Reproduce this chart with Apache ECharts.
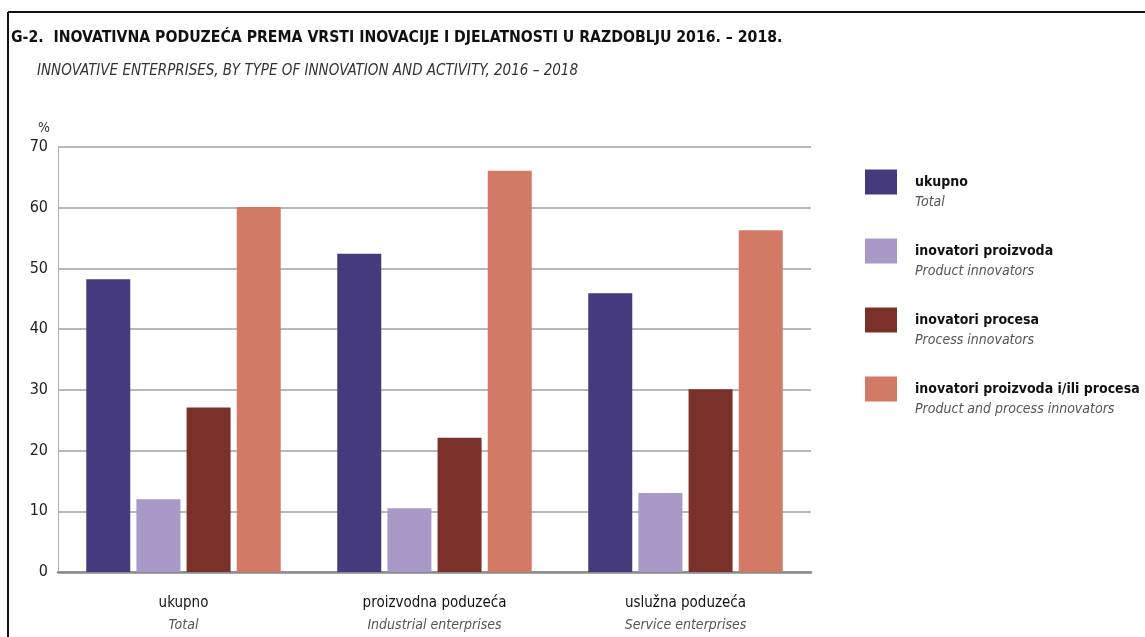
<!DOCTYPE html>
<html>
<head>
<meta charset="utf-8">
<script src="https://cdn.jsdelivr.net/npm/echarts@6/dist/echarts.min.js"></script>
<style>
html,body{margin:0;padding:0;background:#fff;}
#c{width:1145px;height:637px;}
</style>
</head>
<body>
<div id="c"></div>
<script>
const FONT = "'Liberation Sans Narrow','DejaVu Sans Condensed','Roboto Condensed',sans-serif";

const categoriesHr = ['ukupno', 'proizvodna poduzeća', 'uslužna poduzeća'];
const categoriesEn = ['Total', 'Industrial enterprises', 'Service enterprises'];

const seriesNamesHr = ['ukupno', 'inovatori proizvoda', 'inovatori procesa', 'inovatori proizvoda i/ili procesa'];
const seriesNamesEn = ['Total', 'Product innovators', 'Process innovators', 'Product and process innovators'];
const seriesColors = ['#463a7f', '#a899c6', '#7a3129', '#d27a66'];

const totalValues = [48.2, 52.4, 45.9];
const productValues = [12.0, 10.5, 13.0];
const processValues = [27.1, 22.1, 30.1];
const productOrProcessValues = [60.1, 66.1, 56.3];

const yTicks = [0, 10, 20, 30, 40, 50, 60, 70];

const titleHr = 'G-2.  INOVATIVNA PODUZEĆA PREMA VRSTI INOVACIJE I DJELATNOSTI U RAZDOBLJU 2016. – 2018.';
const titleEn = 'INNOVATIVE ENTERPRISES, BY TYPE OF INNOVATION AND ACTIVITY, 2016 – 2018';

const allValues = [totalValues, productValues, processValues, productOrProcessValues];

const chart = echarts.init(document.getElementById('c'), null, {renderer: 'canvas'});

const series = allValues.map((vals, i) => ({
  name: seriesNamesHr[i],
  type: 'bar',
  data: vals,
  barWidth: 44,
  barGap: '14%',
  itemStyle: {color: seriesColors[i]},
  emphasis: {disabled: true}
}));

const option = {
  animation: false,
  backgroundColor: '#fff',
  textStyle: {fontFamily: FONT},
  title: [
    {text: titleHr, left: 6, top: 25,
     textStyle: {fontFamily: FONT, fontWeight: 'bold', fontSize: 15.7, color: '#111'}},
    {text: titleEn, left: 32, top: 59,
     textStyle: {fontFamily: FONT, fontStyle: 'italic', fontWeight: 'normal', fontSize: 15, color: '#333'}}
  ],
  graphic: [
    {type: 'line', shape: {x1: 8, y1: 12, x2: 1145, y2: 12}, style: {stroke: '#111', lineWidth: 2}},
    {type: 'line', shape: {x1: 8, y1: 12, x2: 8, y2: 637}, style: {stroke: '#111', lineWidth: 2}}
  ],
  legend: {
    orient: 'vertical',
    left: 860,
    top: 150,
    itemWidth: 32,
    itemHeight: 25,
    itemGap: 15,
    icon: 'rect',
    data: seriesNamesHr,
    selectedMode: false,
    formatter: function (name) {
      const i = seriesNamesHr.indexOf(name);
      return '{e| }\n{a|' + name + '}\n{b|' + seriesNamesEn[i] + '}';
    },
    textStyle: {
      padding: [0, 0, 0, 13],
      rich: {
        e: {fontSize: 14, lineHeight: 20},
        a: {fontFamily: FONT, fontWeight: 'bold', fontSize: 14, lineHeight: 20, color: '#111'},
        b: {fontFamily: FONT, fontStyle: 'italic', fontSize: 14, lineHeight: 20, color: '#555'}
      }
    }
  },
  grid: {left: 58, right: 334, top: 147, bottom: 65, containLabel: false},
  xAxis: {
    type: 'category',
    data: categoriesHr,
    axisTick: {show: false},
    axisLine: {show: true, lineStyle: {color: '#8a8a8a', width: 2.5}},
    axisLabel: {
      margin: 20,
      formatter: function (v, idx) {
        return '{a|' + v + '}\n{b|' + categoriesEn[idx] + '}';
      },
      rich: {
        a: {fontFamily: FONT, fontSize: 15, lineHeight: 22, color: '#111'},
        b: {fontFamily: FONT, fontStyle: 'italic', fontSize: 14, lineHeight: 22, color: '#555'}
      }
    }
  },
  yAxis: {
    type: 'value',
    min: yTicks[0],
    max: yTicks[yTicks.length - 1],
    interval: 10,
    name: '%',
    nameLocation: 'end',
    nameGap: 12,
    nameTextStyle: {fontFamily: FONT, fontSize: 14, color: '#333', align: 'right', padding: [0, 8, 0, 0]},
    axisLine: {show: true, lineStyle: {color: '#b0b0b0', width: 1}},
    axisTick: {show: false},
    axisLabel: {fontFamily: FONT, fontSize: 16, color: '#222', margin: 10},
    splitLine: {show: true, lineStyle: {color: '#a0a0a0', width: 1.5}}
  },
  series: series
};

chart.setOption(option);
</script>
</body>
</html>
